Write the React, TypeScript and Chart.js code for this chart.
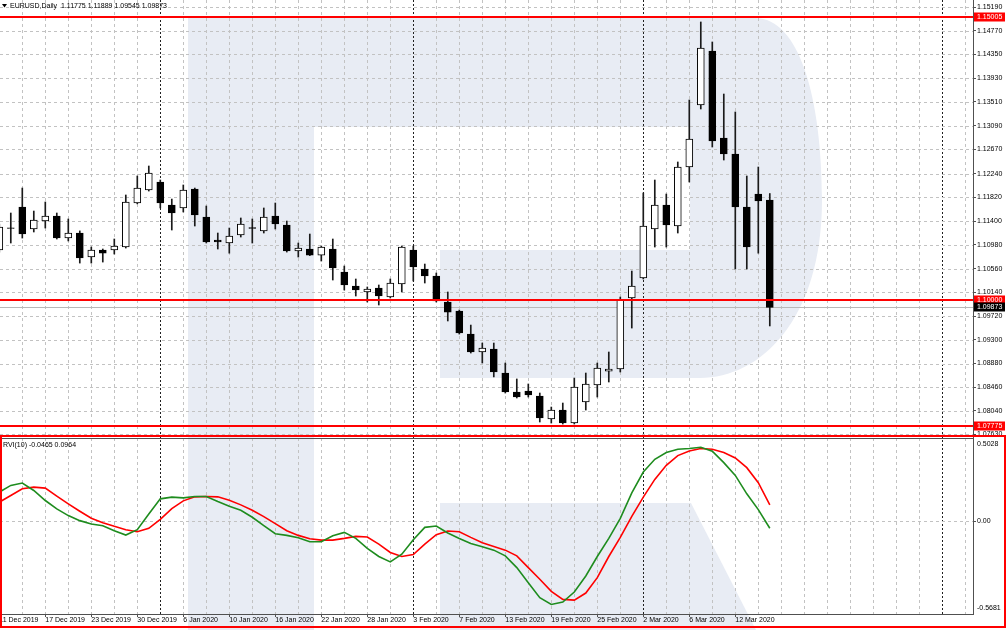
import React, { useEffect, useRef } from "react";
import { Chart, registerables } from "chart.js";

Chart.register(...registerables);

const FONT = '"Liberation Sans", Arial, sans-serif';

const symbolTitle = "EURUSD,Daily";
const rviName = "RVI(10)";

const dates = [
  "11 Dec 2019", "12 Dec 2019", "13 Dec 2019", "16 Dec 2019", "17 Dec 2019", "18 Dec 2019", "19 Dec 2019",
  "20 Dec 2019", "23 Dec 2019", "24 Dec 2019", "26 Dec 2019", "27 Dec 2019", "30 Dec 2019", "31 Dec 2019",
  "2 Jan 2020", "3 Jan 2020", "6 Jan 2020", "7 Jan 2020", "8 Jan 2020", "9 Jan 2020", "10 Jan 2020",
  "13 Jan 2020", "14 Jan 2020", "15 Jan 2020", "16 Jan 2020", "17 Jan 2020", "20 Jan 2020", "21 Jan 2020",
  "22 Jan 2020", "23 Jan 2020", "24 Jan 2020", "27 Jan 2020", "28 Jan 2020", "29 Jan 2020", "30 Jan 2020",
  "31 Jan 2020", "3 Feb 2020", "4 Feb 2020", "5 Feb 2020", "6 Feb 2020", "7 Feb 2020", "10 Feb 2020",
  "11 Feb 2020", "12 Feb 2020", "13 Feb 2020", "14 Feb 2020", "17 Feb 2020", "18 Feb 2020", "19 Feb 2020",
  "20 Feb 2020", "21 Feb 2020", "24 Feb 2020", "25 Feb 2020", "26 Feb 2020", "27 Feb 2020", "28 Feb 2020",
  "2 Mar 2020", "3 Mar 2020", "4 Mar 2020", "5 Mar 2020", "6 Mar 2020", "9 Mar 2020", "10 Mar 2020",
  "11 Mar 2020", "12 Mar 2020", "13 Mar 2020", "16 Mar 2020", "17 Mar 2020",
];

const opens = [
  1.10889, 1.1128, 1.11651, 1.11261, 1.11402, 1.11491, 1.11101, 1.1119, 1.10765, 1.10889,
  1.10889, 1.10942, 1.11721, 1.11951, 1.12093, 1.11686, 1.11633, 1.11969, 1.11473, 1.11066,
  1.11013, 1.11155, 1.11285, 1.11227, 1.11491, 1.11332, 1.10871, 1.10907, 1.108, 1.10907,
  1.105, 1.10252, 1.10146, 1.10217, 1.10057, 1.10288, 1.10889, 1.10553, 1.10429, 1.09969,
  1.09809, 1.09402, 1.09084, 1.09137, 1.08712, 1.08376, 1.08393, 1.08305, 1.07898, 1.08057,
  1.07827, 1.08199, 1.085, 1.08747, 1.08783, 1.1004, 1.10394, 1.11261, 1.11686, 1.11314,
  1.12358, 1.13456, 1.14411, 1.12871, 1.12588, 1.11651, 1.1188, 1.11775,
];

const highs = [
  1.1135, 1.11544, 1.11986, 1.11579, 1.11739, 1.11544, 1.11438, 1.11227, 1.10942, 1.10907,
  1.11084, 1.11863, 1.12199, 1.12376, 1.12128, 1.11791, 1.1204, 1.11986, 1.11668, 1.1119,
  1.11278, 1.11456, 1.11438, 1.11633, 1.11721, 1.11402, 1.11013, 1.11172, 1.1096, 1.11084,
  1.10606, 1.10376, 1.10235, 1.1027, 1.10376, 1.1096, 1.1096, 1.10641, 1.10482, 1.10146,
  1.09827, 1.09561, 1.09243, 1.09243, 1.08889, 1.08607, 1.08518, 1.08358, 1.0811, 1.08181,
  1.08623, 1.08712, 1.08889, 1.09084, 1.10057, 1.10517, 1.11898, 1.12128, 1.1188, 1.12447,
  1.13544, 1.14925, 1.14571, 1.1365, 1.13332, 1.12199, 1.12358, 1.11889,
];

const lows = [
  1.10853, 1.11013, 1.11101, 1.11208, 1.11278, 1.11084, 1.11049, 1.10658, 1.10658, 1.10676,
  1.10818, 1.10924, 1.11706, 1.11933, 1.11633, 1.11243, 1.11562, 1.11314, 1.11013, 1.10907,
  1.10833, 1.11119, 1.11013, 1.1119, 1.11261, 1.10853, 1.10765, 1.1079, 1.10694, 1.10358,
  1.10181, 1.10075, 1.09969, 1.09916, 1.1004, 1.10146, 1.10341, 1.10305, 1.09969, 1.09633,
  1.09402, 1.09066, 1.08889, 1.08643, 1.08358, 1.0827, 1.08287, 1.07845, 1.07827, 1.07809,
  1.07809, 1.08057, 1.08287, 1.08553, 1.0873, 1.09508, 1.10376, 1.10942, 1.10942, 1.1119,
  1.12093, 1.13385, 1.12712, 1.12482, 1.10553, 1.10553, 1.10833, 1.09545,
];

const closes = [
  1.11296, 1.1127, 1.11172, 1.1142, 1.11491, 1.11101, 1.1119, 1.10747, 1.10889, 1.10833,
  1.1096, 1.11739, 1.11986, 1.12252, 1.11721, 1.11544, 1.11951, 1.11509, 1.11031, 1.11031,
  1.11137, 1.1135, 1.1127, 1.11473, 1.1135, 1.10871, 1.10924, 1.108, 1.10942, 1.1057,
  1.1027, 1.10181, 1.10199, 1.10075, 1.10305, 1.10942, 1.10588, 1.10429, 1.09987, 1.0979,
  1.0942, 1.09084, 1.09154, 1.0873, 1.08376, 1.08287, 1.08323, 1.07916, 1.08057, 1.07827,
  1.08465, 1.08518, 1.088, 1.08783, 1.10004, 1.10252, 1.11314, 1.11686, 1.11332, 1.12358,
  1.12854, 1.14464, 1.12818, 1.12588, 1.11651, 1.10942, 1.11757, 1.09873,
];

const rviMain = [
  0.1734, 0.2142, 0.2285, 0.1836, 0.1224, 0.0714, 0.0306, 0.0, -0.0204, -0.0306,
  -0.0612, -0.0877, -0.0551, 0.0408, 0.1326, 0.1428, 0.1387, 0.1469, 0.1469, 0.1163,
  0.0877, 0.0632, 0.0204, -0.0306, -0.0796, -0.0898, -0.104, -0.1285, -0.1285, -0.0918,
  -0.0714, -0.1081, -0.1693, -0.2183, -0.2509, -0.204, -0.1163, -0.0408, -0.0326, -0.0755,
  -0.1081, -0.1387, -0.1591, -0.1795, -0.2142, -0.2856, -0.3774, -0.4692, -0.51, -0.4957,
  -0.4345, -0.3366, -0.2183, -0.1081, 0.0143, 0.1693, 0.2958, 0.3733, 0.4141, 0.4345,
  0.4386, 0.4468, 0.4223, 0.3529, 0.2754, 0.1632, 0.0673, -0.0465,
];

const rviSignal = [
  0.1122, 0.153, 0.1938, 0.204, 0.1979, 0.1489, 0.102, 0.0571, 0.0143, -0.0122,
  -0.0347, -0.0551, -0.0673, -0.0469, 0.0082, 0.0734, 0.1204, 0.1448, 0.1469, 0.1448,
  0.1244, 0.0959, 0.0632, 0.0245, -0.0184, -0.0612, -0.0898, -0.1102, -0.1183, -0.1183,
  -0.1081, -0.0959, -0.0999, -0.1428, -0.1938, -0.2183, -0.2061, -0.1428, -0.0857, -0.0632,
  -0.0673, -0.102, -0.1346, -0.1571, -0.1795, -0.2142, -0.2856, -0.357, -0.4304, -0.4794,
  -0.4835, -0.4406, -0.3468, -0.2183, -0.102, 0.0265, 0.1428, 0.2509, 0.3366, 0.3958,
  0.4243, 0.4386, 0.4345, 0.4141, 0.3815, 0.3223, 0.2305, 0.0964,
];

const priceTicks = [
  1.1519, 1.1477, 1.1435, 1.1393, 1.1351, 1.1309, 1.1267, 1.1224, 1.1182, 1.114,
  1.1098, 1.1056, 1.1014, 1.0972, 1.093, 1.0888, 1.0846, 1.0804, 1.0763,
];
const priceMin = 1.07562;
const priceMax = 1.15314;
const rviMin = -0.5681;
const rviMax = 0.5028;
const redLevels = [1.15005, 1.1, 1.07775];
const separators = [14, 36, 56, 82];
const labelEvery = 4;
const xMin = 0.061;
const xMax = 84.67;

const zeroPad = (s: any) => {
  s.paddingTop = 0;
  s.paddingBottom = 0;
  s.paddingLeft = 0;
  s.paddingRight = 0;
};

export default function App() {
  const ref = useRef<HTMLCanvasElement>(null);

  useEffect(() => {
    document.body.style.margin = "0";
    const last = dates.length - 1;
    const isBull = (i: number) => closes[i] >= opens[i];

    const bodies = dates.map((_, i) => ({ x: i, y: [opens[i], closes[i]] }));
    const wicks = dates.map((_, i) => ({ x: i, y: [lows[i], highs[i]] }));
    const mainPts = rviMain.map((v, i) => ({ x: i, y: v }));
    const sigPts = rviSignal.map((v, i) => ({ x: i, y: v }));

    const backdrop = {
      id: "backdrop",
      beforeDraw(chart: any) {
        const { ctx, width, height } = chart;
        ctx.save();
        ctx.fillStyle = "#ffffff";
        ctx.fillRect(0, 0, width, height);
        // watermark logo
        ctx.fillStyle = "#e8ecf4";
        ctx.beginPath();
        ctx.moveTo(188, 18);
        ctx.lineTo(755, 18);
        ctx.bezierCurveTo(800, 18, 822, 100, 822, 200);
        ctx.bezierCurveTo(822, 320, 760, 378, 700, 378);
        ctx.lineTo(440, 378);
        ctx.lineTo(440, 250);
        ctx.lineTo(690, 250);
        ctx.lineTo(690, 127);
        ctx.lineTo(314, 127);
        ctx.lineTo(314, height);
        ctx.lineTo(188, height);
        ctx.closePath();
        ctx.fill();
        ctx.beginPath();
        ctx.moveTo(440, 503);
        ctx.lineTo(691, 503);
        ctx.lineTo(756, height);
        ctx.lineTo(440, height);
        ctx.closePath();
        ctx.fill();
        ctx.restore();
      },
    };

    const gridLines = {
      id: "gridLines",
      beforeDatasetsDraw(chart: any) {
        const { ctx, chartArea: ca, scales } = chart;
        const x = scales.x, yP = scales.yPrice, yR = scales.yRvi;
        ctx.save();
        ctx.lineWidth = 1;
        for (let i = Math.ceil(x.min / 2) * 2; i <= x.max; i += 2) {
          const px = Math.round(x.getPixelForValue(i)) + 0.5;
          const sep = separators.includes(i);
          ctx.strokeStyle = sep ? "#202020" : "#c2c2c2";
          ctx.setLineDash(sep ? [2, 2] : [3, 3]);
          ctx.beginPath();
          ctx.moveTo(px, ca.top);
          ctx.lineTo(px, ca.bottom);
          ctx.stroke();
        }
        ctx.strokeStyle = "#c2c2c2";
        ctx.setLineDash([3, 3]);
        for (const v of priceTicks) {
          const py = Math.round(yP.getPixelForValue(v)) + 0.5;
          if (py < yP.top || py > yP.bottom) continue;
          ctx.beginPath();
          ctx.moveTo(ca.left, py);
          ctx.lineTo(ca.right, py);
          ctx.stroke();
        }
        const pz = Math.round(yR.getPixelForValue(0)) + 0.5;
        ctx.beginPath();
        ctx.moveTo(ca.left, pz);
        ctx.lineTo(ca.right, pz);
        ctx.stroke();
        ctx.setLineDash([]);
        // current price line
        const pc = Math.round(yP.getPixelForValue(closes[last])) + 0.5;
        ctx.strokeStyle = "#b8b8b8";
        ctx.beginPath();
        ctx.moveTo(ca.left, pc);
        ctx.lineTo(ca.right, pc);
        ctx.stroke();
        ctx.restore();
      },
    };

    const overlay = {
      id: "overlay",
      afterDraw(chart: any) {
        const { ctx, chartArea: ca, scales, width, height } = chart;
        const yP = scales.yPrice, yR = scales.yRvi;
        ctx.save();
        // pane separator
        ctx.strokeStyle = "#505050";
        ctx.lineWidth = 1;
        ctx.beginPath();
        ctx.moveTo(ca.left, Math.round(yR.top) + 0.5);
        ctx.lineTo(ca.right, Math.round(yR.top) + 0.5);
        ctx.stroke();
        // red horizontal levels
        ctx.strokeStyle = "#ff0000";
        ctx.lineWidth = 2;
        for (const lvl of redLevels) {
          const py = Math.round(yP.getPixelForValue(lvl));
          ctx.beginPath();
          ctx.moveTo(ca.left, py);
          ctx.lineTo(ca.right, py);
          ctx.stroke();
        }
        // axis boxes
        ctx.font = `7px ${FONT}`;
        ctx.textBaseline = "middle";
        ctx.textAlign = "left";
        const boxL = ca.right + 1;
        const boxW = width - 2 - boxL;
        for (const lvl of redLevels) {
          const py = Math.round(yP.getPixelForValue(lvl));
          ctx.fillStyle = "#ff0000";
          ctx.fillRect(boxL, py - 4.5, boxW, 9);
          ctx.fillStyle = "#ffffff";
          ctx.fillText(lvl.toFixed(5), ca.right + 4, py + 0.5);
        }
        const pc = Math.round(yP.getPixelForValue(closes[last]));
        ctx.fillStyle = "#000000";
        ctx.fillRect(boxL, pc - 4.5, boxW, 9);
        ctx.fillStyle = "#ffffff";
        ctx.fillText(closes[last].toFixed(5), ca.right + 4, pc + 0.5);
        // RVI axis labels
        ctx.fillStyle = "#000000";
        ctx.fillText(rviMax.toFixed(4), ca.right + 4, yR.getPixelForValue(rviMax) + 6);
        ctx.fillText("0.00", ca.right + 4, yR.getPixelForValue(0));
        ctx.fillText(rviMin.toFixed(4), ca.right + 4, yR.getPixelForValue(rviMin) - 6);
        ctx.strokeStyle = "#505050";
        ctx.lineWidth = 1;
        const pz = Math.round(yR.getPixelForValue(0)) + 0.5;
        ctx.beginPath();
        ctx.moveTo(ca.right, pz);
        ctx.lineTo(ca.right + 3, pz);
        ctx.stroke();
        // titles
        ctx.fillStyle = "#000000";
        ctx.beginPath();
        ctx.moveTo(2, 4);
        ctx.lineTo(7, 4);
        ctx.lineTo(4.5, 7.5);
        ctx.closePath();
        ctx.fill();
        ctx.fillText(
          `${symbolTitle}  ${opens[last].toFixed(5)} ${highs[last].toFixed(5)} ${lows[last].toFixed(5)} ${closes[last].toFixed(5)}`,
          10, 6.5
        );
        ctx.fillText(
          `${rviName} ${rviMain[last].toFixed(4)} ${rviSignal[last].toFixed(4)}`,
          3, yR.top + 7.5
        );
        // red frame around indicator pane
        ctx.strokeStyle = "#ff0000";
        ctx.lineWidth = 2;
        const top = Math.round(yR.top) - 2;
        ctx.strokeRect(1, top, width - 3, height - 3 - top);
        ctx.restore();
      },
    };

    const tickFont = { family: FONT, size: 7 };

    const chart = new Chart(ref.current as HTMLCanvasElement, {
      type: "bar",
      data: {
        datasets: [
          {
            type: "bar",
            data: bodies as any,
            xAxisID: "x",
            yAxisID: "yPrice",
            backgroundColor: (c: any) => (isBull(c.dataIndex) ? "#ffffff" : "#000000"),
            borderColor: "#000000",
            borderWidth: 1,
            borderSkipped: false,
            barThickness: 7,
            grouped: false,
            order: 0,
          } as any,
          {
            type: "bar",
            data: wicks as any,
            xAxisID: "x",
            yAxisID: "yPrice",
            backgroundColor: "#1a1a1a",
            borderWidth: 0,
            barThickness: 1,
            grouped: false,
            order: 1,
          } as any,
          {
            type: "line",
            data: mainPts as any,
            xAxisID: "x",
            yAxisID: "yRvi",
            borderColor: "#1e8c1e",
            borderWidth: 1.6,
            pointRadius: 0,
            tension: 0,
            order: 2,
          } as any,
          {
            type: "line",
            data: sigPts as any,
            xAxisID: "x",
            yAxisID: "yRvi",
            borderColor: "#ff0000",
            borderWidth: 1.6,
            pointRadius: 0,
            tension: 0,
            order: 3,
          } as any,
        ],
      },
      options: {
        responsive: false,
        maintainAspectRatio: false,
        devicePixelRatio: 1,
        animation: false,
        layout: { padding: 0 },
        plugins: { legend: { display: false }, tooltip: { enabled: false }, title: { display: false } },
        scales: {
          x: {
            type: "linear",
            position: "bottom",
            min: xMin,
            max: xMax,
            bounds: "data",
            offset: false,
            afterBuildTicks: (s: any) => {
              s.ticks = dates.map((_, i) => i).filter((i) => i % labelEvery === 0).map((v) => ({ value: v }));
            },
            afterFit: (s: any) => {
              s.height = 16;
              zeroPad(s);
            },
            ticks: {
              autoSkip: false,
              maxRotation: 0,
              minRotation: 0,
              align: "start",
              padding: -1,
              color: "#000000",
              font: tickFont,
              callback: (v: any) => dates[v] ?? "",
            },
            grid: { drawOnChartArea: false, drawTicks: true, tickLength: 3, color: "#505050", offset: false },
            border: { color: "#505050", width: 1 },
          },
          yPrice: {
            type: "linear",
            position: "right",
            stack: "panes",
            stackWeight: 438,
            min: priceMin,
            max: priceMax,
            bounds: "data",
            beginAtZero: false,
            afterBuildTicks: (s: any) => {
              s.ticks = priceTicks.map((v) => ({ value: v }));
            },
            afterFit: (s: any) => {
              s.width = 34;
              zeroPad(s);
            },
            ticks: {
              autoSkip: false,
              padding: 1,
              color: "#000000",
              font: tickFont,
              callback: (v: any) => Number(v).toFixed(5),
            },
            grid: { drawOnChartArea: false, drawTicks: true, tickLength: 3, color: "#505050" },
            border: { color: "#505050", width: 1 },
          },
          yRvi: {
            type: "linear",
            position: "right",
            stack: "panes",
            stackWeight: 176,
            min: rviMin,
            max: rviMax,
            bounds: "data",
            beginAtZero: false,
            afterFit: (s: any) => {
              s.width = 34;
              zeroPad(s);
            },
            ticks: { display: false },
            grid: { drawOnChartArea: false, drawTicks: false },
            border: { color: "#505050", width: 1 },
          },
        },
      } as any,
      plugins: [backdrop, gridLines, overlay],
    });

    return () => {
      chart.destroy();
    };
  }, []);

  return (
    <div style={{ position: "fixed", left: 0, top: 0, width: 1007, height: 630, background: "#fff" }}>
      <canvas ref={ref} width={1007} height={630} style={{ display: "block", width: 1007, height: 630 }} />
    </div>
  );
}
